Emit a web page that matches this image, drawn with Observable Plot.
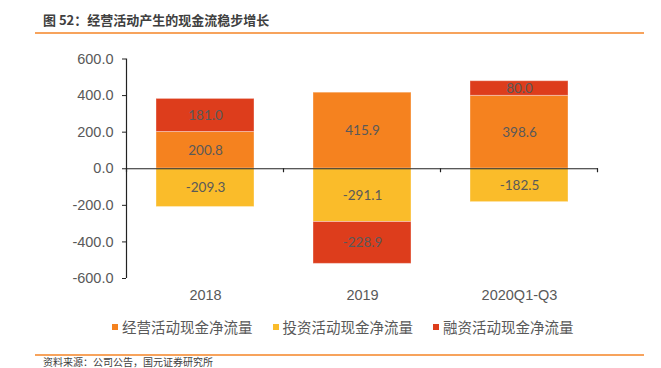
<!DOCTYPE html>
<html><head><meta charset="utf-8">
<script src="https://cdn.jsdelivr.net/npm/d3@7"></script>
<script src="https://cdn.jsdelivr.net/npm/@observablehq/plot@0.6"></script>
<style>
body{margin:0;background:#fff;width:661px;height:368px;overflow:hidden;position:relative;font-family:"Noto Sans CJK SC",sans-serif;}
#title{position:absolute;left:43px;top:10px;font-size:13px;font-weight:bold;color:#404040;white-space:nowrap;}
.hline{position:absolute;left:35px;width:609px;height:2px;background:#F7A35C;}
#chart{position:absolute;left:0;top:40px;}
#legend{position:absolute;left:112px;top:316px;display:flex;gap:20px;font-size:14.5px;line-height:22px;color:#595959;}
#legend span.item{display:flex;align-items:center;white-space:nowrap;}
#legend i{display:inline-block;width:6px;height:6px;margin-right:4px;}
#source{position:absolute;left:43px;top:356px;font-size:10px;line-height:11px;color:#404040;white-space:nowrap;}
</style></head>
<body>
<div id="title">图 52：经营活动产生的现金流稳步增长</div>
<div class="hline" style="top:32px"></div>
<div id="chart"></div>
<div id="legend"></div>
<div class="hline" style="top:354px"></div>
<div id="source">资料来源：公司公告，国元证券研究所</div>
<script>
const categories = ["2018", "2019", "2020Q1-Q3"];
const seriesNames = ["经营活动现金净流量", "投资活动现金净流量", "融资活动现金净流量"];
const operating = [200.8, 415.9, 398.6];
const investing = [-209.3, -291.1, -182.5];
const financing = [181.0, -228.9, 80.0];
const colors = ["#F5821F", "#FABC2A", "#DD3D1C"];
const yTicks = [-600, -400, -200, 0, 200, 400, 600];

const seriesValues = [operating, investing, financing];
const data = [];
seriesNames.forEach((s, si) => categories.forEach((c, ci) => data.push({cat: c, series: s, value: seriesValues[si][ci]})));

const plot = Plot.plot({
  width: 661, height: 270,
  marginTop: 18.5, marginBottom: 32, marginLeft: 126, marginRight: 63,
  style: {fontFamily: "Liberation Sans, Arial, sans-serif", fontSize: "14.5px", color: "#595959", background: "transparent"},
  x: {domain: categories, paddingInner: 0.377, paddingOuter: 0.1885, label: null, tickSize: 0, tickPadding: 11},
  y: {domain: [-600, 600], ticks: yTicks, tickFormat: d => d.toFixed(1), label: null, tickSize: 4, tickPadding: 9},
  color: {domain: seriesNames, range: colors},
  marks: [
    Plot.barY(data, Plot.stackY({x: "cat", y: "value", z: "series", fill: "series", order: seriesNames, stroke: "#fff", strokeOpacity: 0.35, strokeWidth: 1})),
    Plot.text(data, Plot.stackY({x: "cat", y: "value", z: "series", order: seriesNames, text: d => d.value.toFixed(1), fill: "#595959", fontSize: 13.5, fontFamily: "Lato, sans-serif"})),
    Plot.ruleY([0], {stroke: "#222", strokeWidth: 1.2})
  ]
});
document.getElementById("chart").appendChild(plot);

// axis line & category boundary ticks from scales
const xs = plot.scale("x"), ys = plot.scale("y");
const svg = d3.select(plot);
const step = xs.step, x0 = xs.apply(categories[0]) - (step - xs.bandwidth) / 2;
svg.append("line").attr("x1", x0).attr("x2", x0).attr("y1", ys.apply(600)).attr("y2", ys.apply(-600)).attr("stroke", "#222").attr("stroke-width", 1.2);
for (let i = 0; i <= categories.length; i++) {
  const xv = x0 + i * step;
  svg.append("line").attr("x1", xv).attr("x2", xv).attr("y1", ys.apply(0)).attr("y2", ys.apply(0) + 4).attr("stroke", "#222").attr("stroke-width", 1.2);
}
svg.selectAll("[aria-label='y-axis tick'] path").attr("stroke", "#222");

const legend = document.getElementById("legend");
seriesNames.forEach((s, i) => {
  const it = document.createElement("span"); it.className = "item";
  it.innerHTML = `<i style="background:${colors[i]}"></i>${s}`;
  legend.appendChild(it);
});
</script>
</body></html>
